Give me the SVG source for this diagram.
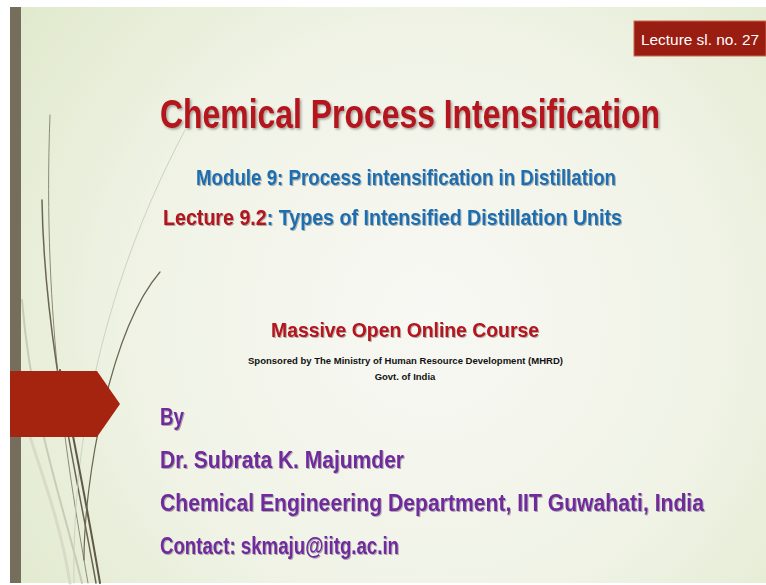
<svg xmlns="http://www.w3.org/2000/svg" width="766" height="585" viewBox="0 0 766 585">
<defs>
<radialGradient id="bg" cx="430" cy="320" r="520" gradientUnits="userSpaceOnUse">
<stop offset="0" stop-color="#f8f8f4"/>
<stop offset="0.55" stop-color="#f0f3e6"/>
<stop offset="1" stop-color="#e0e9cc"/>
</radialGradient>
<filter id="sh" x="-5%" y="-30%" width="110%" height="160%">
<feDropShadow dx="1.5" dy="1.2" stdDeviation="0.8" flood-color="#000" flood-opacity="0.35"/>
</filter>
<filter id="shs" x="-5%" y="-30%" width="110%" height="160%">
<feDropShadow dx="1" dy="0.9" stdDeviation="0.6" flood-color="#000" flood-opacity="0.3"/>
</filter>
</defs>
<style>
.t{font-family:"Liberation Sans",Arial,sans-serif;font-weight:bold}
.red{fill:#b3121c}
.blue{fill:#1f6eb0}
.pur{fill:#6f2a9e}
.ln{fill:none;stroke-linecap:round}
</style>
<rect width="766" height="585" fill="#ffffff"/>
<rect x="10" y="7" width="756" height="576" fill="url(#bg)"/>
<rect x="10" y="7" width="11" height="576" fill="#756e5c"/>
<g id="wisp">
<path class="ln" d="M88 583 C70 480 42 320 50 115" stroke="#8c8a7a" stroke-width="1"/>
<path class="ln" d="M96 583 C78 480 44 340 42 200" stroke="#6b6652" stroke-width="1.5"/>
<path class="ln" d="M82 583 C62 500 32 420 22 300" stroke="#c8cbb8" stroke-width="2"/>
<path class="ln" d="M74 583 C72 460 95 300 185 130" stroke="#cfd2c2" stroke-width="1"/>
<path class="ln" d="M100 583 C86 500 70 420 60 370" stroke="#5e5948" stroke-width="2"/>
<path class="ln" d="M84 560 C84 480 110 330 160 272" stroke="#6b6652" stroke-width="1.2"/>
<path class="ln" d="M70 583 C60 520 40 470 28 430" stroke="#d8dbc8" stroke-width="3"/>
</g>
<g id="arrow">
<polygon points="10,371 97,371 120,404 97,437 10,437" fill="#a52410"/>
</g>
<g id="lecture-no">
<rect x="634" y="21" width="132" height="35" fill="#9a1d12" stroke="#c86a50" stroke-width="1"/>
<text x="700" y="45" text-anchor="middle" font-family="'Liberation Sans',Arial,sans-serif" font-size="15" fill="#ffffff" textLength="118" lengthAdjust="spacingAndGlyphs">Lecture sl. no. 27</text>
</g>
<g id="title">
<text class="t red" transform="translate(160,128) scale(1,1.28)" x="0" y="0" font-size="32" textLength="500" lengthAdjust="spacingAndGlyphs" filter="url(#sh)">Chemical Process Intensification</text>
</g>
<g id="module">
<text class="t blue" transform="translate(196,185) scale(1,1.18)" x="0" y="0" font-size="18.7" textLength="420" lengthAdjust="spacingAndGlyphs" filter="url(#shs)">Module 9: Process intensification in Distillation</text>
</g>
<g id="lecture">
<text class="t" transform="translate(163,225) scale(1,1.12)" x="0" y="0" font-size="19.6" textLength="459" lengthAdjust="spacingAndGlyphs" filter="url(#shs)"><tspan class="red">Lecture 9.2</tspan><tspan class="blue">: Types of Intensified Distillation Units</tspan></text>
</g>
<g id="mooc">
<text class="t red" transform="translate(271,337) scale(1,1.08)" x="0" y="0" font-size="19.4" textLength="268" lengthAdjust="spacingAndGlyphs" filter="url(#shs)">Massive Open Online Course</text>
<text class="t" x="248" y="364" font-size="9.5" fill="#111" textLength="315" lengthAdjust="spacingAndGlyphs">Sponsored by The Ministry of Human Resource Development (MHRD)</text>
<text class="t" x="405" y="380" font-size="9.5" fill="#111" text-anchor="middle">Govt. of India</text>
</g>
<g id="author">
<text class="t pur" transform="translate(160,425) scale(1,1.13)" x="0" y="0" font-size="21" textLength="24" lengthAdjust="spacingAndGlyphs" filter="url(#shs)">By</text>
<text class="t pur" transform="translate(160,468) scale(1,1.13)" x="0" y="0" font-size="21" textLength="244" lengthAdjust="spacingAndGlyphs" filter="url(#shs)">Dr. Subrata K. Majumder</text>
<text class="t pur" transform="translate(160,511) scale(1,1.13)" x="0" y="0" font-size="21" textLength="544" lengthAdjust="spacingAndGlyphs" filter="url(#shs)">Chemical Engineering Department, IIT Guwahati, India</text>
<text class="t pur" transform="translate(160,554) scale(1,1.13)" x="0" y="0" font-size="21" textLength="239" lengthAdjust="spacingAndGlyphs" filter="url(#shs)">Contact: skmaju@iitg.ac.in</text>
</g>
</svg>
